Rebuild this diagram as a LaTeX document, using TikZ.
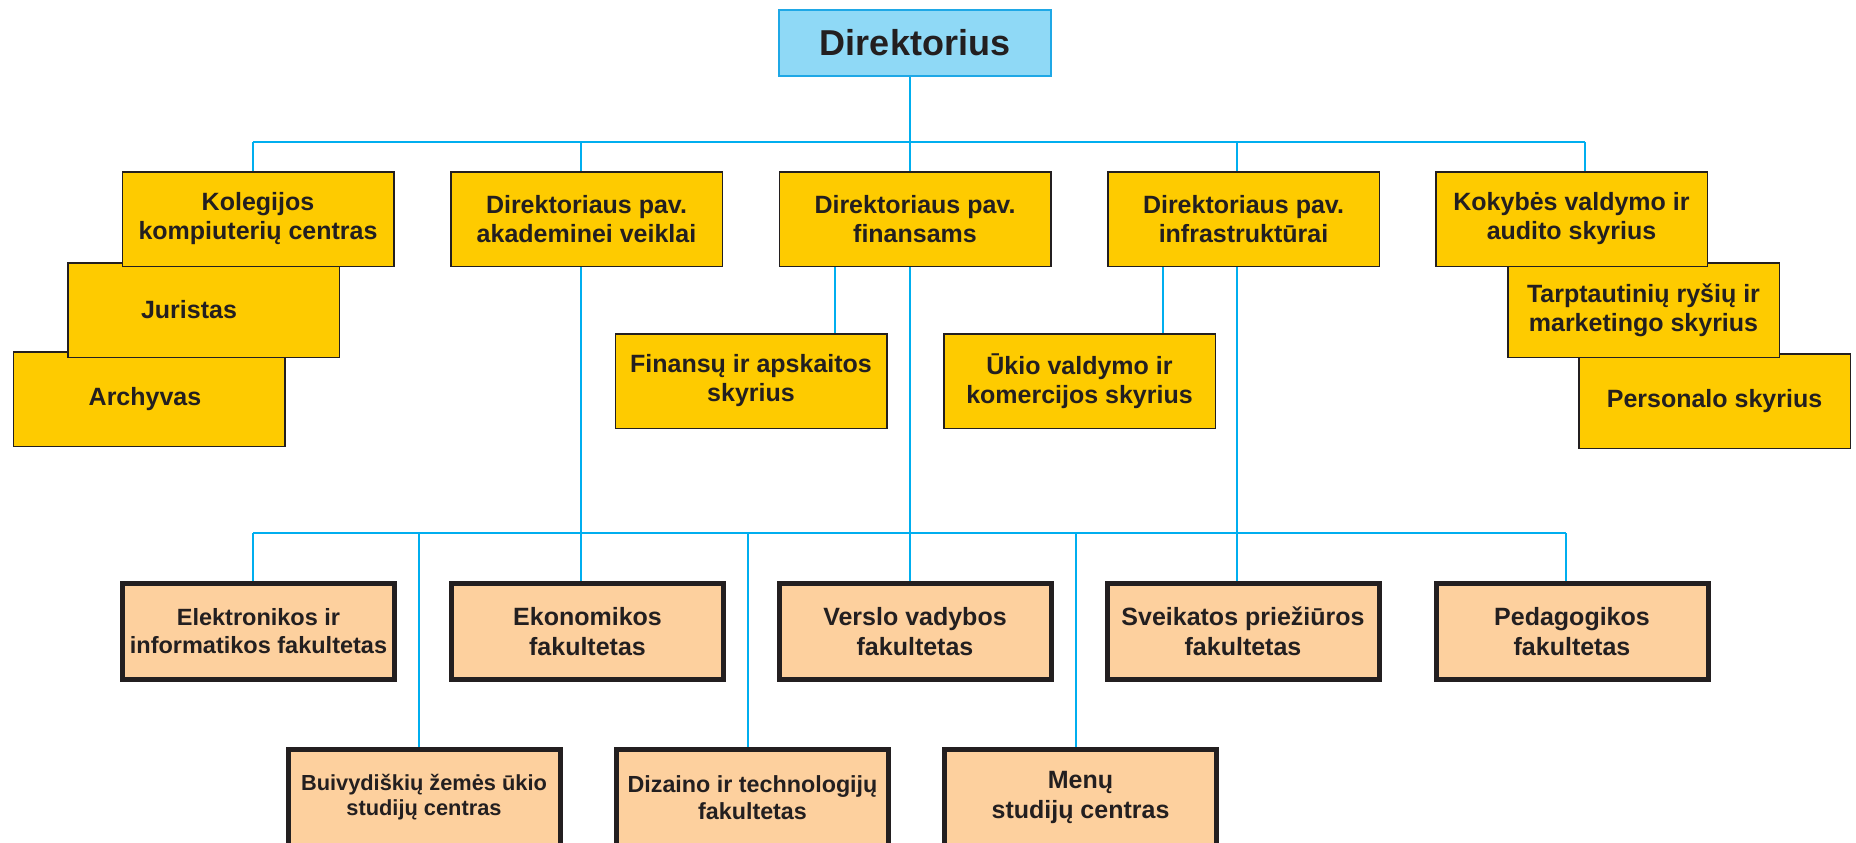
\documentclass[tikz,border=0pt]{standalone}
\usepackage{fontspec}
\setmainfont{Liberation Sans}
\definecolor{linecol}{HTML}{00AEEF}
\definecolor{darkc}{HTML}{231F20}
\definecolor{gold}{HTML}{FECB00}
\definecolor{peach}{HTML}{FDD09E}
\definecolor{skyfill}{HTML}{8FD9F6}
\definecolor{skyline}{HTML}{1FA8E6}
\begin{document}
\begin{tikzpicture}[x=1pt,y=-1pt,
  conn/.style={draw=linecol, line width=2.5pt},
  ybox/.style={draw=darkc, fill=gold, line width=1.5pt, minimum width=271.5pt, minimum height=94.5pt,
    inner sep=0pt, align=center, text=darkc, font=\bfseries\fontsize{25}{29}\selectfont},
  facbox/.style={draw=darkc, fill=peach, line width=5pt, minimum width=272pt, minimum height=96pt,
    inner sep=0pt, align=center, text=darkc, font=\bfseries\fontsize{25}{30}\selectfont},
  dirbox/.style={draw=skyline, fill=skyfill, line width=2pt, minimum width=272pt, minimum height=66pt,
    inner sep=0pt, text=darkc, font=\bfseries\fontsize{36}{40}\selectfont}]
\useasboundingbox (0,0) rectangle (1856,843);
\fill[white] (0,0) rectangle (1856,843);

% bus coordinates
\coordinate (t1) at (253,142);
\coordinate (t2) at (581,142);
\coordinate (t3) at (910,142);
\coordinate (t4) at (1237,142);
\coordinate (t5) at (1585,142);
\coordinate (b1) at (253,533);
\coordinate (b2) at (419,533);
\coordinate (b3) at (581,533);
\coordinate (b4) at (748,533);
\coordinate (b5) at (910,533);
\coordinate (b6) at (1076,533);
\coordinate (b7) at (1237,533);
\coordinate (b8) at (1566,533);
\coordinate (fx) at (835,300);
\coordinate (ux) at (1163,300);

% nodes
\path (915,43) node[dirbox] (dir) {Direktorius};

\path (149,399) node[ybox] (arch) {Archyvas\hspace{8pt}};
\path (203.5,310) node[ybox] (jur) {Juristas\hspace{29pt}};
\path (258,219) node[ybox] (kol) {Kolegijos\\kompiuterių centras};
\path (586.5,219) node[ybox] (akad) {Direktoriaus pav.\\akademinei veiklai};
\path (915,219) node[ybox] (fin) {Direktoriaus pav.\\finansams};
\path (1243.5,219) node[ybox] (infra) {Direktoriaus pav.\\infrastruktūrai};
\path (1714.5,401) node[ybox] (pers) {Personalo skyrius};
\path (1643.5,310) node[ybox] (tarp) {Tarptautinių ryšių ir\\marketingo skyrius};
\path (1571.5,219) node[ybox] (kok) {Kokybės valdymo ir\\audito skyrius};
\path (751,381) node[ybox] (fap) {Finansų ir apskaitos\\skyrius};
\path (1079.5,381) node[ybox] (ukio) {Ūkio valdymo ir\\komercijos skyrius};

% connectors
\draw[conn] (dir.south -| t3) -- (t3);
\draw[conn] (t1) -- (t5);
\draw[conn] (t1) -- (t1 |- kol.north);
\draw[conn] (t2) -- (t2 |- akad.north);
\draw[conn] (t3) -- (t3 |- fin.north);
\draw[conn] (t4) -- (t4 |- infra.north);
\draw[conn] (t5) -- (t5 |- kok.north);
\draw[conn] (fin.south -| fx) -- (fap.north -| fx);
\draw[conn] (infra.south -| ux) -- (ukio.north -| ux);
\draw[conn] (akad.south -| b3) -- (b3);
\draw[conn] (fin.south -| b5) -- (b5);
\draw[conn] (infra.south -| b7) -- (b7);
\draw[conn] (b1) -- (b8);

\path (258.5,631.5) node[facbox, font=\bfseries\fontsize{23.5}{28}\selectfont] (elek) {Elektronikos ir\\informatikos fakultetas};
\path (587.5,631.5) node[facbox] (ekon) {Ekonomikos\\fakultetas};
\path (915,631.5) node[facbox] (vers) {Verslo vadybos\\fakultetas};
\path (1243,631.5) node[facbox] (sveik) {Sveikatos priežiūros\\fakultetas};
\path (1572,631.5) node[facbox] (ped) {Pedagogikos\\fakultetas};
\path (424,797.5) node[facbox, font=\bfseries\fontsize{21.8}{25}\selectfont] (buiv) {Buivydiškių žemės ūkio\\studijų centras};
\path (752.5,797.5) node[facbox, font=\bfseries\fontsize{23.3}{27}\selectfont] (diz) {Dizaino ir technologijų\\fakultetas};
\path (1080.5,797.5) node[facbox] (menu) {Menų\\studijų centras};

\draw[conn] (b1) -- (b1 |- elek.north);
\draw[conn] (b2) -- (b2 |- buiv.north);
\draw[conn] (b3) -- (b3 |- ekon.north);
\draw[conn] (b4) -- (b4 |- diz.north);
\draw[conn] (b5) -- (b5 |- vers.north);
\draw[conn] (b6) -- (b6 |- menu.north);
\draw[conn] (b7) -- (b7 |- sveik.north);
\draw[conn] (b8) -- (b8 |- ped.north);
\end{tikzpicture}
\end{document}
